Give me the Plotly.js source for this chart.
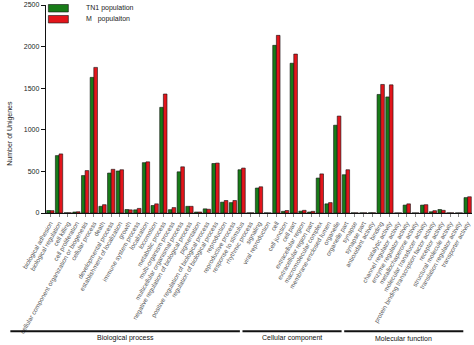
<!DOCTYPE html>
<html>
<head>
<meta charset="utf-8">
<script src="https://cdn.plot.ly/plotly-3.0.1.min.js"></script>
<style>html,body{margin:0;padding:0;background:#fff;}#chart{width:474px;height:345px;}</style>
</head>
<body>
<div id="chart"></div>
<script>
// ---- data ----
var bpCategories = ["biological adhesion","biological regulation","cell killing","cell proliferation","cellular component organization or biogenesis","cellular process","death","developmental process","establishment of localization","growth","immune system process","localization","locomotion","metabolic process","multi-organism process","multicellular organismal process","negative regulation of biological process","pigmentation","positive regulation of biological process","regulation of biological process","reproduction","reproductive process","response to stimulus","rhythmic process","signaling","viral reproduction"];
var ccCategories = ["cell","cell junction","cell part","extracellular region","extracellular region part","macromolecular complex","membrane-enclosed lumen","organelle","organelle part","synapse","synapse part"];
var mfCategories = ["antioxidant activity","binding","catalytic activity","channel regulator activity","enzyme regulator activity","metallochaperone activity","molecular transducer activity","protein binding transcription factor activity","receptor activity","structural molecule activity","translation regulator activity","transporter activity"];

var tn1BP = [30,690,3,12,450,1630,80,480,505,42,38,605,90,1270,40,495,80,12,50,595,130,125,520,2,300,2];
var tn1CC = [2015,20,1800,22,12,420,110,1055,460,2,2];
var tn1MF = [3,1425,1395,1,95,1,95,15,42,2,1,185];

var mBP = [28,710,3,15,510,1750,100,525,520,38,55,615,110,1430,65,555,80,12,45,600,150,150,540,2,315,1];
var mCC = [2135,30,1910,32,20,470,125,1165,520,2,2];
var mMF = [3,1545,1540,1,110,1,100,28,32,2,1,195];

var groupNames = ["Biological process","Cellular component","Molecular function"];
var seriesNames = ["TN1 population","M\u00a0\u00a0\u00a0populaiton"];
var seriesColors = ['#187c18','#e3151b'];
var yTicks = [0,500,1000,1500,2000,2500];

// ---- build ----
var categories = bpCategories.concat(ccCategories, mfCategories);
var tn1 = tn1BP.concat(tn1CC, tn1MF);
var mPop = mBP.concat(mCC, mMF);
var N = categories.length;

var traces = [
  {type:'bar', name:seriesNames[0], x:categories, y:tn1,
   marker:{color:seriesColors[0], line:{color:'#111', width:0.6}}},
  {type:'bar', name:seriesNames[1], x:categories, y:mPop,
   marker:{color:seriesColors[1], line:{color:'#111', width:0.6}}}
];

// convert a category position (may lie outside the data) to paper x
function px(i){ return (i + 0.5) / N; }

var nBP = bpCategories.length, nCC = ccCategories.length, nMF = mfCategories.length;
var groupSpans = [
  [-4.6, nBP - 4.2],
  [nBP - 3.9, nBP + nCC - 3.5],
  [nBP + nCC - 3.2, nBP + nCC + nMF - 1.5]
];
var shapes = [], annotations = [];
groupSpans.forEach(function(s, i){
  shapes.push({type:'line', xref:'paper', yref:'paper', x0:px(s[0]), x1:px(s[1]), y0:-0.568, y1:-0.568,
               line:{color:'#111', width:2}});
  annotations.push({xref:'paper', yref:'paper', x:px((s[0]+s[1])/2), y:-0.603,
                    xanchor:'center', yanchor:'middle',
                    text:groupNames[i], showarrow:false,
                    font:{family:'Liberation Sans, Arial', size:7, color:'#111'}});
});
annotations.push({xref:'paper', yref:'paper', x:-0.085, y:0.385, xanchor:'center', yanchor:'middle',
                  text:'Number of Unigenes', textangle:-90, showarrow:false,
                  font:{family:'Liberation Sans, Arial', size:7, color:'#222'}});

// hand-drawn legend (boxes + labels)
var legendRows = [[1.0024, 0.9664], [0.9496, 0.9136]];
seriesNames.forEach(function(name, i){
  var r = legendRows[i];
  shapes.push({type:'rect', xref:'paper', yref:'paper', x0:0.0056, x1:0.0525, y0:r[1], y1:r[0],
               fillcolor:seriesColors[i], line:{color:'#111', width:0.6}});
  annotations.push({xref:'paper', yref:'paper', x:0.09, y:(r[0]+r[1])/2, xanchor:'left', yanchor:'middle',
                    text:name, showarrow:false,
                    font:{family:'Liberation Sans, Arial', size:7, color:'#222'}});
});

var layout = {
  width:474, height:345,
  margin:{l:45.6, r:2, t:5, b:131.7},
  paper_bgcolor:'#fff', plot_bgcolor:'#fff',
  barmode:'group', bargap:0.16, bargroupgap:0,
  font:{family:'Liberation Sans, Arial', color:'#222'},
  showlegend:false,
  xaxis:{type:'category', range:[-0.5, N - 0.5], tickangle:-60, ticks:'outside', ticklen:3, tickwidth:0.6, tickcolor:'#333',
         showline:true, linecolor:'#111', linewidth:1.2, showgrid:false, zeroline:false,
         tickfont:{size:6.3, color:'#555'}, automargin:false},
  yaxis:{range:[0,2500], tickvals:yTicks, ticks:'outside', ticklen:4, tickwidth:1, tickcolor:'#111',
         showline:true, linecolor:'#111', linewidth:1.2, showgrid:false, zeroline:false,
         tickfont:{size:7, color:'#222'}, automargin:false},
  shapes:shapes, annotations:annotations
};

Plotly.newPlot('chart', traces, layout, {displayModeBar:false, staticPlot:true});
</script>
</body>
</html>
